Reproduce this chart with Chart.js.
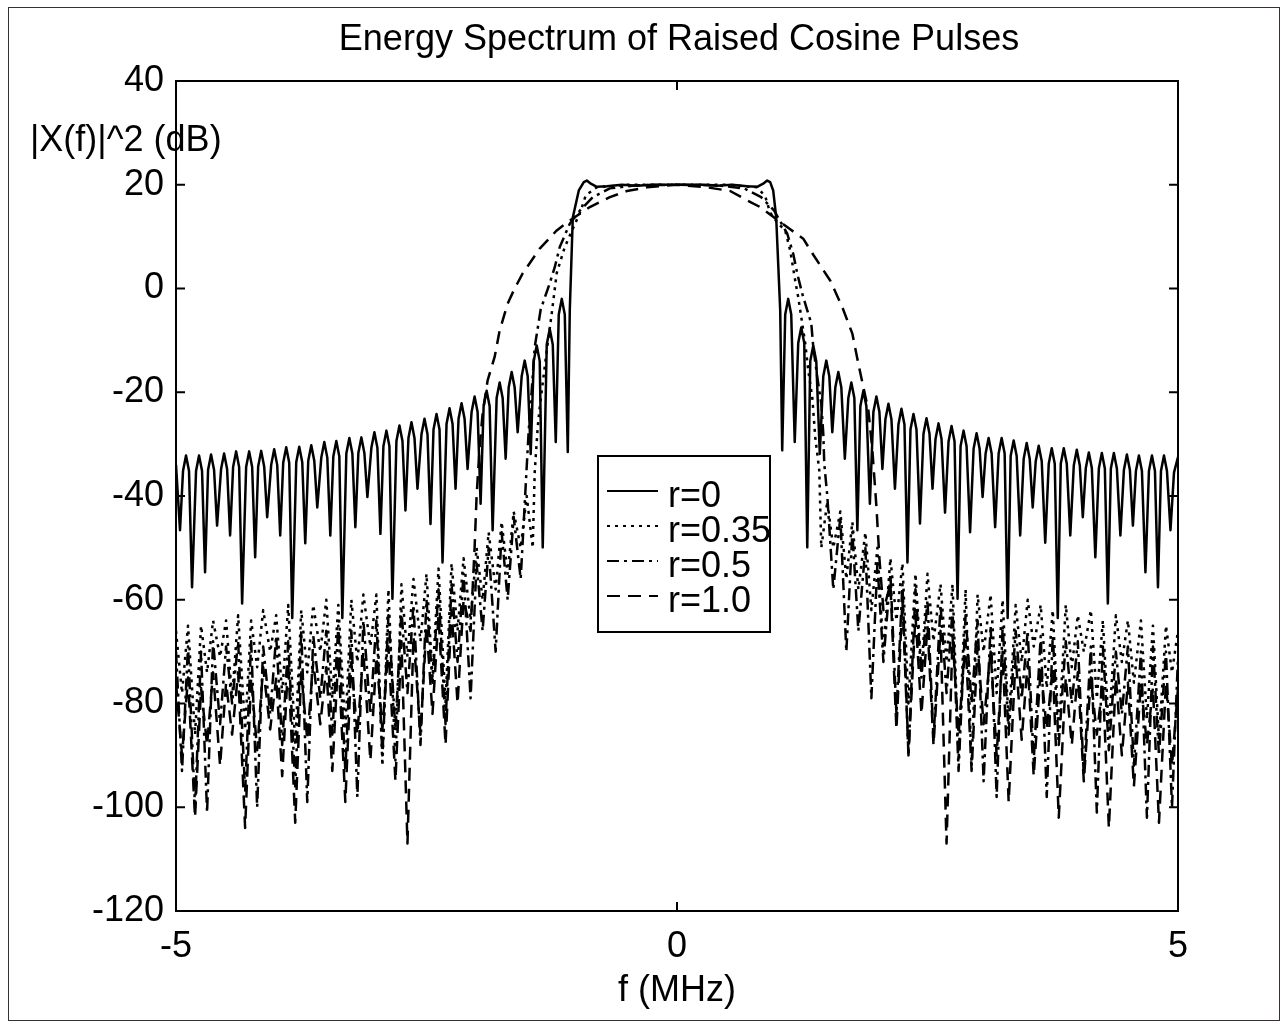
<!DOCTYPE html>
<html><head><meta charset="utf-8">
<script src="https://cdn.jsdelivr.net/npm/chart.js@4.4.1/dist/chart.umd.min.js"></script>
<style>html,body{margin:0;padding:0;background:#fff;overflow:hidden}</style>
</head><body>
<canvas id="c" width="1285" height="1026"></canvas>
<script>
const TITLE = 'Energy Spectrum of Raised Cosine Pulses';
const X_LABEL = 'f (MHz)';
const Y_LABEL = '|X(f)|^2 (dB)';
const SERIES_NAMES = ['r=0', 'r=0.35', 'r=0.5', 'r=1.0'];
const X_TICKS = [-5, 0, 5];
const Y_TICKS = [-120, -100, -80, -60, -40, -20, 0, 20, 40];

// r = 0 (solid): per side-lobe line = shoulder, peak, shoulder, null
const R0_F = [
 -5.00,-4.96,
 -4.93,-4.90,-4.87,-4.84,
 -4.80,-4.77,-4.74,-4.71,
 -4.68,-4.65,-4.62,-4.59,
 -4.55,-4.52,-4.49,-4.46,
 -4.43,-4.40,-4.37,-4.34,
 -4.30,-4.27,-4.24,-4.21,
 -4.18,-4.15,-4.12,-4.09,
 -4.05,-4.02,-3.99,-3.96,
 -3.93,-3.90,-3.87,-3.84,
 -3.80,-3.77,-3.74,-3.71,
 -3.68,-3.65,-3.62,-3.59,
 -3.55,-3.52,-3.49,-3.46,
 -3.43,-3.40,-3.37,-3.34,
 -3.30,-3.27,-3.24,-3.21,
 -3.18,-3.15,-3.12,-3.09,
 -3.05,-3.02,-2.99,-2.96,
 -2.93,-2.90,-2.87,-2.84,
 -2.80,-2.77,-2.74,-2.71,
 -2.68,-2.65,-2.62,-2.59,
 -2.55,-2.52,-2.49,-2.46,
 -2.43,-2.40,-2.37,-2.34,
 -2.30,-2.27,-2.24,-2.21,
 -2.18,-2.15,-2.12,-2.09,
 -2.05,-2.02,-1.99,-1.96,
 -1.93,-1.90,-1.87,-1.84,
 -1.80,-1.77,-1.74,-1.71,
 -1.68,-1.65,-1.62,-1.59,
 -1.55,-1.52,-1.49,-1.46,
 -1.43,-1.40,-1.37,-1.34,
 -1.30,-1.27,-1.24,-1.21,
 -1.18,-1.15,-1.12,-1.09,
 -1.07,-1.04,-0.98,-0.93,-0.90,-0.86,-0.80,-0.70,-0.55,-0.40,-0.25,0,
 0.25,0.40,0.55,0.70,0.80,0.86,0.90,0.93,0.96,0.99,1.03,1.05,
 1.08,1.11,1.14,1.175,
 1.21,1.24,1.27,1.30,
 1.33,1.36,1.39,1.425,
 1.46,1.49,1.52,1.55,
 1.58,1.61,1.64,1.675,
 1.71,1.74,1.77,1.80,
 1.83,1.86,1.89,1.925,
 1.96,1.99,2.02,2.05,
 2.08,2.11,2.14,2.175,
 2.21,2.24,2.27,2.30,
 2.33,2.36,2.39,2.425,
 2.46,2.49,2.52,2.55,
 2.58,2.61,2.64,2.675,
 2.71,2.74,2.77,2.80,
 2.83,2.86,2.89,2.925,
 2.96,2.99,3.02,3.05,
 3.08,3.11,3.14,3.175,
 3.21,3.24,3.27,3.30,
 3.33,3.36,3.39,3.425,
 3.46,3.49,3.52,3.55,
 3.58,3.61,3.64,3.675,
 3.71,3.74,3.77,3.80,
 3.83,3.86,3.89,3.925,
 3.96,3.99,4.02,4.05,
 4.08,4.11,4.14,4.175,
 4.21,4.24,4.27,4.30,
 4.33,4.36,4.39,4.425,
 4.46,4.49,4.52,4.55,
 4.58,4.61,4.64,4.675,
 4.71,4.74,4.77,4.80,
 4.83,4.86,4.89,4.925,
 4.96,5.00
];
const R0_DB = [
 -34.0,-46.6,
 -35.2,-32.2,-35.2,-57.6,
 -35.2,-32.2,-35.2,-54.7,
 -35.0,-32.0,-35.0,-45.7,
 -34.8,-31.8,-34.8,-47.6,
 -34.4,-31.4,-34.4,-60.7,
 -34.4,-31.4,-34.4,-51.8,
 -34.3,-31.3,-34.3,-44.1,
 -34.0,-31.0,-34.0,-47.6,
 -33.6,-30.6,-33.6,-63.5,
 -33.5,-30.5,-33.5,-49.1,
 -33.2,-30.2,-33.2,-42.2,
 -32.6,-29.6,-32.6,-47.6,
 -32.4,-29.4,-32.4,-63.5,
 -31.8,-28.8,-31.8,-46.0,
 -31.7,-28.7,-31.7,-40.2,
 -30.7,-27.7,-30.7,-47.3,
 -30.4,-27.4,-30.4,-59.8,
 -29.4,-26.4,-29.4,-42.8,
 -28.8,-25.8,-28.8,-38.6,
 -28.1,-25.1,-28.1,-45.4,
 -27.2,-24.2,-27.2,-52.8,
 -26.1,-23.1,-26.1,-38.6,
 -25.1,-22.1,-25.1,-34.8,
 -23.8,-20.8,-23.8,-41.5,
 -22.7,-19.7,-22.7,-46.6,
 -21.1,-18.1,-21.1,-32.8,
 -19.1,-16.1,-19.1,-27.7,
 -16.9,-13.9,-16.9,-31.9,
 -14.0,-11.0,-14.0,-49.9,
 -10.8,-7.8,-10.8,-29.6,
 -5.0,-2.0,-5.0,-31.5,
 -4.2,13.7,18.9,20.5,20.8,20.2,19.6,19.7,20.0,19.8,20.0,20.0,
 20.0,19.8,20.0,19.7,19.6,20.2,20.8,20.5,18.9,13.7,-4.2,-31.2,
 -5.0,-2.0,-5.0,-29.6,
 -10.5,-7.5,-10.5,-49.9,
 -14.0,-11.0,-14.0,-31.9,
 -16.9,-13.9,-16.9,-27.7,
 -19.1,-16.1,-19.1,-32.8,
 -21.1,-18.1,-21.1,-46.6,
 -22.7,-19.7,-22.7,-41.5,
 -23.8,-20.8,-23.8,-34.8,
 -25.2,-22.2,-25.2,-38.6,
 -26.2,-23.2,-26.2,-52.8,
 -27.2,-24.2,-27.2,-45.3,
 -28.0,-25.0,-28.0,-38.6,
 -29.0,-26.0,-29.0,-43.2,
 -29.5,-26.5,-29.5,-59.8,
 -30.4,-27.4,-30.4,-47.0,
 -30.9,-27.9,-30.9,-40.2,
 -31.8,-28.8,-31.8,-46.0,
 -31.8,-28.8,-31.8,-63.5,
 -32.3,-29.3,-32.3,-47.6,
 -32.8,-29.8,-32.8,-42.2,
 -33.3,-30.3,-33.3,-49.0,
 -33.8,-30.8,-33.8,-63.5,
 -33.8,-30.8,-33.8,-47.6,
 -34.1,-31.1,-34.1,-44.1,
 -34.6,-31.6,-34.6,-51.8,
 -34.7,-31.7,-34.7,-60.7,
 -34.7,-31.7,-34.7,-47.6,
 -35.0,-32.0,-35.0,-45.7,
 -35.2,-32.2,-35.2,-54.7,
 -35.2,-32.2,-35.2,-57.6,
 -35.2,-32.2,-35.2,-46.6,
 -35.5,-32.5
];

// main lobes of the rolled-off pulses
const R035_MAIN_F  = [-1.42,-1.39,-1.37,-1.30,-1.25,-1.20,-1.12,-1.04,-0.96,-0.91,-0.80,-0.50,0,0.50,0.80,0.88,0.93,1.01,1.08,1.13,1.18,1.21,1.24,1.28,1.31,1.35,1.38,1.42];
const R035_MAIN_DB = [-35.4,-26.7,-22.9,-12.0,-4.8,3.0,8.0,11.5,15.0,18.0,19.5,20.0,20.0,20.0,19.5,17.8,14.6,12.5,11.2,7.3,1.5,-1.7,-5.5,-10.6,-15.8,-21.0,-28.7,-35.1];
const R05_MAIN_F   = [-1.50,-1.48,-1.45,-1.42,-1.36,-1.27,-1.22,-1.17,-1.07,-0.97,-0.84,-0.67,-0.40,0,0.40,0.67,0.84,0.97,1.10,1.16,1.20,1.25,1.30,1.34,1.36,1.40,1.44,1.46,1.47];
const R05_MAIN_DB  = [-34.4,-27.4,-19.7,-11.3,-4.0,1.0,4.1,8.0,12.5,15.0,17.6,19.3,19.9,20.0,19.9,19.3,17.6,15.0,10.6,6.7,2.9,-1.0,-4.2,-6.7,-11.3,-17.1,-22.2,-28.0,-33.8];
const R10_MAIN_F   = [-2.02,-2.00,-1.97,-1.94,-1.89,-1.82,-1.77,-1.69,-1.62,-1.54,-1.37,-1.20,-1.07,-0.87,-0.67,-0.50,-0.30,0,0.30,0.53,0.70,0.83,1.13,1.26,1.36,1.53,1.65,1.75,1.81,1.86,1.91,1.95,1.99,2.02];
const R10_MAIN_DB  = [-50,-40,-30.6,-24.1,-17.7,-13.2,-8.1,-2.9,0,2.9,7.7,11.2,13.1,15.7,17.6,18.8,19.5,20,19.5,18.8,17.0,15.7,11.4,9.6,6.5,1.5,-3.6,-8.7,-14.5,-19.0,-23.5,-31.2,-42,-52];

// out-of-band floors (frequency grid, then levels per series)
const TAIL_F_LEFT = [
 -5.00,-4.94,-4.88,-4.81,-4.75,-4.69,-4.63,-4.56,
 -4.50,-4.44,-4.38,-4.31,-4.25,-4.19,-4.13,-4.06,
 -4.00,-3.94,-3.88,-3.81,-3.75,-3.69,-3.63,-3.56,
 -3.50,-3.44,-3.38,-3.31,-3.25,-3.19,-3.13,-3.06,
 -3.00,-2.94,-2.88,-2.81,-2.75,-2.69,-2.63,-2.56,
 -2.50,-2.44,-2.38,-2.31,-2.25,-2.19,-2.13,-2.06,
 -2.00,-1.94,-1.88,-1.81,-1.75,-1.69,-1.63,-1.56,
 -1.50,-1.44,-1.38
];
const TAIL_F_RIGHT = [
 1.38,1.44,1.50,1.56,1.63,1.69,1.75,1.81,
 1.88,1.94,2.00,2.06,2.13,2.19,2.25,2.31,
 2.38,2.44,2.50,2.56,2.63,2.69,2.75,2.81,
 2.88,2.94,3.00,3.06,3.13,3.19,3.25,3.31,
 3.38,3.44,3.50,3.56,3.63,3.69,3.75,3.81,
 3.88,3.94,4.00,4.06,4.13,4.19,4.25,4.31,
 4.38,4.44,4.50,4.56,4.63,4.69,4.75,4.81,
 4.88,4.94,5.00
];
const R035_TAIL_LEFT = [
 -66,-78,-65,-86,-65,-74,-64,-71,
 -64,-79,-63,-85,-64,-73,-62,-70,
 -63,-78,-61,-88,-62,-74,-61,-70,
 -60,-79,-61,-85,-60,-72,-59,-69,
 -59,-92,-58,-91,-57,-71,-56,-68,
 -55,-75,-54,-80,-53,-66,-52,-64,
 -50,-60,-47,-58,-45,-55,-43,-50,
 -40,-50,null
];
const R035_TAIL_RIGHT = [
 null,-50,-41,-50,-43,-56,-45,-58,
 -47,-62,-50,-70,-52,-64,-53,-80,
 -55,-74,-55,-68,-57,-72,-57,-91,
 -58,-92,-59,-70,-59,-78,-60,-84,
 -61,-72,-60,-69,-61,-77,-62,-86,
 -61,-73,-63,-70,-62,-79,-64,-85,
 -63,-72,-64,-76,-64,-83,-65,-87,
 -65,-74,-66
];
const R05_TAIL_LEFT = [
 -70,-93,-69,-100,-70,-101,-68,-84,
 -69,-80,-68,-97,-68,-100,-69,-82,
 -67,-88,-68,-96,-66,-99,-67,-79,
 -66,-86,-65,-93,-66,-98,-64,-82,
 -64,-90,-63,-85,-62,-78,-61,-88,
 -60,-76,-58,-84,-57,-72,-55,-79,
 -53,-66,-50,-70,-47,-60,-44,-56,
 null,null,null
];
const R05_TAIL_RIGHT = [
 null,null,-40,-58,-44,-70,-47,-66,
 -50,-79,-53,-72,-55,-82,-57,-90,
 -58,-75,-60,-87,-61,-78,-62,-93,
 -63,-80,-64,-95,-65,-98,-65,-86,
 -66,-79,-66,-91,-67,-98,-67,-88,
 -68,-80,-68,-94,-69,-101,-69,-89,
 -70,-82,-69,-92,-70,-102,-69,-90,
 -70,-100,-71
];
const R10_TAIL_LEFT = [
 -76,-90,-75,-102,-77,-88,-74,-92,
 -76,-86,-74,-104,-75,-89,-73,-85,
 -75,-94,-72,-103,-74,-87,-72,-84,
 -73,-93,-71,-99,-72,-86,-70,-91,
 -71,-85,-69,-95,-68,-107,-67,-86,
 -65,-82,-63,-88,-62,-80,-60,-66,
 null,null,null,null,null,null,null,null,
 null,null,null
];
const R10_TAIL_RIGHT = [
 null,null,null,null,null,null,null,null,
 null,null,null,-62,-57,-85,-60,-90,
 -63,-82,-65,-88,-66,-107,-67,-86,
 -68,-93,-69,-84,-70,-90,-70,-99,
 -71,-87,-72,-94,-73,-85,-73,-102,
 -75,-88,-74,-95,-75,-86,-76,-104,
 -75,-90,-76,-96,-76,-88,-77,-103,
 -76,-92,-77
];

function pts(fs, ys) {
  const out = [];
  for (let i = 0; i < fs.length; i++) if (ys[i] !== null && ys[i] !== undefined) out.push({x: fs[i], y: ys[i]});
  return out;
}
function curve(tl, mf, md, tr) {
  return pts(TAIL_F_LEFT, tl).concat(pts(mf, md), pts(TAIL_F_RIGHT, tr));
}

const FONT = '"Liberation Sans", Arial, Helvetica, sans-serif';
const DASHES = [[], [3, 5], [12, 5, 3, 5], [13, 8]];
const WIDTHS = [2.5, 2.5, 2.5, 2.5];

const datasets = [
  {label: SERIES_NAMES[0], data: pts(R0_F, R0_DB)},
  {label: SERIES_NAMES[1], data: curve(R035_TAIL_LEFT, R035_MAIN_F, R035_MAIN_DB, R035_TAIL_RIGHT)},
  {label: SERIES_NAMES[2], data: curve(R05_TAIL_LEFT, R05_MAIN_F, R05_MAIN_DB, R05_TAIL_RIGHT)},
  {label: SERIES_NAMES[3], data: curve(R10_TAIL_LEFT, R10_MAIN_F, R10_MAIN_DB, R10_TAIL_RIGHT)}
].map((d, i) => Object.assign(d, {
  borderColor: '#000', backgroundColor: '#000', borderWidth: WIDTHS[i], borderDash: DASHES[i],
  pointRadius: 0, fill: false, tension: 0, borderJoinStyle: 'round', borderCapStyle: 'butt'
}));

const framePlugin = {
  id: 'frame',
  beforeDraw(chart) {
    const c = chart.ctx, a = chart.chartArea;
    c.save();
    c.fillStyle = '#fff';
    c.fillRect(0, 0, chart.width, chart.height);
    c.strokeStyle = '#3a3030';
    c.lineWidth = 1;
    c.strokeRect(8.5, 7.5, 1271, 1013);
    c.fillStyle = '#000';
    c.font = '36px ' + FONT;
    c.textAlign = 'center';
    c.textBaseline = 'alphabetic';
    c.fillText(TITLE, (a.left + a.right) / 2 + 2, 50);
    c.fillText(X_LABEL, (a.left + a.right) / 2, 1001);
    c.textAlign = 'left';
    c.textBaseline = 'middle';
    c.fillText(Y_LABEL, 30, 141);
    c.restore();
  },
  afterDatasetsDraw(chart) {
    const c = chart.ctx, a = chart.chartArea;
    const xs = chart.scales.x, ys = chart.scales.y;
    c.save();
    c.strokeStyle = '#000';
    c.lineWidth = 2;
    c.setLineDash([]);
    c.strokeRect(a.left, a.top, a.right - a.left, a.bottom - a.top);
    const TL = 9;
    c.beginPath();
    xs.ticks.forEach(t => {
      const px = xs.getPixelForValue(t.value);
      c.moveTo(px, a.bottom); c.lineTo(px, a.bottom - TL);
      c.moveTo(px, a.top); c.lineTo(px, a.top + TL);
    });
    ys.ticks.forEach(t => {
      const py = ys.getPixelForValue(t.value);
      c.moveTo(a.left, py); c.lineTo(a.left + TL, py);
      c.moveTo(a.right, py); c.lineTo(a.right - TL, py);
    });
    c.stroke();

    // legend box
    const bx = a.left + 422, by = a.top + 375, bw = 172, bh = 176;
    c.fillStyle = '#fff';
    c.fillRect(bx, by, bw, bh);
    c.lineWidth = 2;
    c.strokeRect(bx, by, bw, bh);
    c.font = '36px ' + FONT;
    c.textAlign = 'left';
    c.textBaseline = 'alphabetic';
    c.fillStyle = '#000';
    chart.data.datasets.forEach((d, i) => {
      const ry = by + 35 + i * 35;
      c.setLineDash(d.borderDash || []);
      c.lineWidth = 2;
      c.beginPath();
      c.moveTo(bx + 9, ry); c.lineTo(bx + 60, ry);
      c.stroke();
      c.setLineDash([]);
      c.fillText(d.label, bx + 70, ry + 16);
    });
    c.restore();
  }
};

new Chart(document.getElementById('c').getContext('2d'), {
  type: 'line',
  data: {datasets},
  options: {
    responsive: false,
    animation: false,
    devicePixelRatio: 1,
    layout: {padding: {left: 0, top: 81, right: 107, bottom: 0}},
    plugins: {legend: {display: false}, tooltip: {enabled: false}, title: {display: false}},
    scales: {
      x: {
        type: 'linear', min: -5, max: 5,
        afterBuildTicks: s => { s.ticks = X_TICKS.map(v => ({value: v})); },
        ticks: {font: {family: FONT, size: 36}, color: '#000', padding: 14, maxRotation: 0, autoSkip: false},
        grid: {display: false, drawTicks: false},
        border: {display: false},
        afterFit: s => { s.height = 115; }
      },
      y: {
        type: 'linear', min: -120, max: 40,
        afterBuildTicks: s => { s.ticks = Y_TICKS.map(v => ({value: v})); },
        ticks: {font: {family: FONT, size: 36}, color: '#000', padding: 12, autoSkip: false},
        grid: {display: false, drawTicks: false},
        border: {display: false},
        afterFit: s => { s.width = 176; }
      }
    }
  },
  plugins: [framePlugin]
});
</script>
</body></html>
